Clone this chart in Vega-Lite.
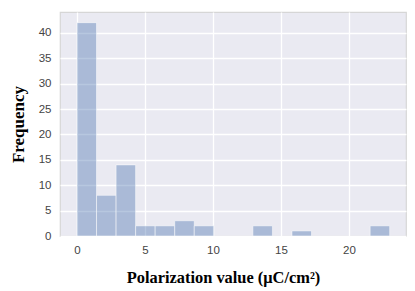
{
  "$schema": "https://vega.github.io/schema/vega-lite/v6.json",
  "width": 346,
  "height": 224,
  "autosize": {"type": "none"},
  "padding": {"left": 60, "top": 12, "right": 9, "bottom": 55},
  "background": "white",
  "config": {
    "view": {"fill": "#EAEAF2", "stroke": "#d6d6d6", "strokeWidth": 1.2},
    "axis": {
      "domain": false,
      "ticks": false,
      "gridColor": "white",
      "gridWidth": 1.3,
      "gridOpacity": 1,
      "labelFont": "Liberation Sans",
      "labelFontSize": 11.5,
      "labelColor": "#444444",
      "titleFont": "Liberation Serif",
      "titleFontWeight": "bold",
      "titleColor": "#000000"
    }
  },
  "data": {
    "values": [
      {"bin_start": 0.0, "bin_end": 1.4375, "count": 42},
      {"bin_start": 1.4375, "bin_end": 2.875, "count": 8},
      {"bin_start": 2.875, "bin_end": 4.3125, "count": 14},
      {"bin_start": 4.3125, "bin_end": 5.75, "count": 2},
      {"bin_start": 5.75, "bin_end": 7.1875, "count": 2},
      {"bin_start": 7.1875, "bin_end": 8.625, "count": 3},
      {"bin_start": 8.625, "bin_end": 10.0625, "count": 2},
      {"bin_start": 10.0625, "bin_end": 11.5, "count": 0},
      {"bin_start": 11.5, "bin_end": 12.9375, "count": 0},
      {"bin_start": 12.9375, "bin_end": 14.375, "count": 2},
      {"bin_start": 14.375, "bin_end": 15.8125, "count": 0},
      {"bin_start": 15.8125, "bin_end": 17.25, "count": 1},
      {"bin_start": 17.25, "bin_end": 18.6875, "count": 0},
      {"bin_start": 18.6875, "bin_end": 20.125, "count": 0},
      {"bin_start": 20.125, "bin_end": 21.5625, "count": 0},
      {"bin_start": 21.5625, "bin_end": 23.0, "count": 2}
    ]
  },
  "transform": [{"filter": "datum.count > 0"}],
  "mark": {"type": "bar", "fill": "#4C72B0", "fillOpacity": 0.4, "stroke": "white", "strokeOpacity": 0.5, "strokeWidth": 1},
  "encoding": {
    "x": {
      "field": "bin_start",
      "type": "quantitative",
      "scale": {"domain": [-1.25, 24.2], "nice": false, "zero": false},
      "axis": {"values": [0, 5, 10, 15, 20], "title": "Polarization value (μC/cm²)", "titleFontSize": 16.4, "titleX": 163, "labelPadding": 8, "titlePadding": 14}
    },
    "x2": {"field": "bin_end"},
    "y": {
      "field": "count",
      "type": "quantitative",
      "scale": {"domain": [0, 44.1], "nice": false},
      "axis": {"values": [0, 5, 10, 15, 20, 25, 30, 35, 40], "title": "Frequency", "titleFontSize": 17, "labelPadding": 9, "titlePadding": 11}
    },
    "y2": {"datum": 0}
  }
}
